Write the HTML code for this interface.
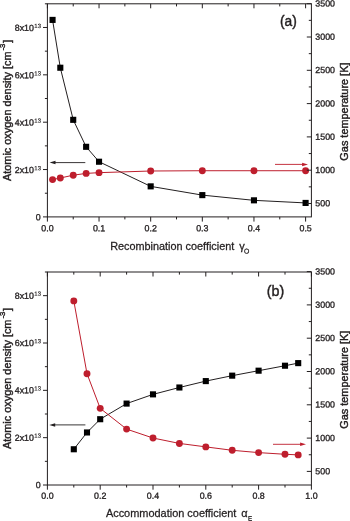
<!DOCTYPE html>
<html lang="en">
<head>
<meta charset="utf-8">
<title>Atomic oxygen density and gas temperature</title>
<style>
html,body{margin:0;padding:0;background:#fff;}
body{width:350px;height:521px;overflow:hidden;}
svg{display:block;filter:blur(0.35px);}
text{font-family:"Liberation Sans", sans-serif;fill:#231f20;stroke:#231f20;stroke-width:0.4px;}
.tk{font-size:8.85px;stroke-width:0.32px;}
.sup{font-size:6px;stroke-width:0.15px;}
.sup2{font-size:7.8px;}
.sub{font-size:6.5px;}
.lab{font-size:11px;stroke-width:0.26px;}
.rot{stroke-width:0.42px;}
.tag{font-size:13.7px;}
</style>
</head>
<body>
<svg width="350" height="521" viewBox="0 0 350 521">
<rect x="0" y="0" width="350" height="521" fill="#ffffff"/>
<g>
<text transform="translate(40.7 220.30) rotate(0.03)" text-anchor="end" class="tk">0</text>
<text transform="translate(33.9 172.94) rotate(0.03)" text-anchor="end" class="tk">2x10</text>
<text transform="translate(34.3 170.14) rotate(0.03)" class="tk sup">13</text>
<text transform="translate(33.9 125.59) rotate(0.03)" text-anchor="end" class="tk">4x10</text>
<text transform="translate(34.3 122.79) rotate(0.03)" class="tk sup">13</text>
<text transform="translate(33.9 78.23) rotate(0.03)" text-anchor="end" class="tk">6x10</text>
<text transform="translate(34.3 75.43) rotate(0.03)" class="tk sup">13</text>
<text transform="translate(33.9 30.88) rotate(0.03)" text-anchor="end" class="tk">8x10</text>
<text transform="translate(34.3 28.08) rotate(0.03)" class="tk sup">13</text>
<text transform="translate(315.3 206.30) rotate(0.03)" class="tk">500</text>
<text transform="translate(315.3 173.00) rotate(0.03)" class="tk">1000</text>
<text transform="translate(315.3 139.70) rotate(0.03)" class="tk">1500</text>
<text transform="translate(315.3 106.40) rotate(0.03)" class="tk">2000</text>
<text transform="translate(315.3 73.10) rotate(0.03)" class="tk">2500</text>
<text transform="translate(315.3 39.80) rotate(0.03)" class="tk">3000</text>
<text transform="translate(315.3 6.50) rotate(0.03)" class="tk">3500</text>
<text transform="translate(47.40 231.30) rotate(0.03)" text-anchor="middle" class="tk">0.0</text>
<text transform="translate(99.04 231.30) rotate(0.03)" text-anchor="middle" class="tk">0.1</text>
<text transform="translate(150.68 231.30) rotate(0.03)" text-anchor="middle" class="tk">0.2</text>
<text transform="translate(202.32 231.30) rotate(0.03)" text-anchor="middle" class="tk">0.3</text>
<text transform="translate(253.96 231.30) rotate(0.03)" text-anchor="middle" class="tk">0.4</text>
<text transform="translate(305.60 231.30) rotate(0.03)" text-anchor="middle" class="tk">0.5</text>
<polyline points="52.56,19.90 60.31,67.73 73.22,119.82 86.13,146.81 99.04,161.73 150.68,186.36 202.32,195.12 253.96,200.33 305.60,202.93" fill="none" stroke="#231f20" stroke-width="1"/>
<rect x="49.51" y="16.85" width="6.1" height="6.1" fill="#000"/>
<rect x="57.26" y="64.68" width="6.1" height="6.1" fill="#000"/>
<rect x="70.17" y="116.77" width="6.1" height="6.1" fill="#000"/>
<rect x="83.08" y="143.76" width="6.1" height="6.1" fill="#000"/>
<rect x="95.99" y="158.68" width="6.1" height="6.1" fill="#000"/>
<rect x="147.63" y="183.31" width="6.1" height="6.1" fill="#000"/>
<rect x="199.27" y="192.07" width="6.1" height="6.1" fill="#000"/>
<rect x="250.91" y="197.28" width="6.1" height="6.1" fill="#000"/>
<rect x="302.55" y="199.88" width="6.1" height="6.1" fill="#000"/>
<polyline points="52.56,179.59 60.31,177.99 73.22,175.19 86.13,173.40 99.04,172.66 150.68,171.00 202.32,170.73 253.96,170.73 305.60,170.73" fill="none" stroke="#be1e2d" stroke-width="1"/>
<circle cx="52.56" cy="179.59" r="3.45" fill="#be1e2d"/>
<circle cx="60.31" cy="177.99" r="3.45" fill="#be1e2d"/>
<circle cx="73.22" cy="175.19" r="3.45" fill="#be1e2d"/>
<circle cx="86.13" cy="173.40" r="3.45" fill="#be1e2d"/>
<circle cx="99.04" cy="172.66" r="3.45" fill="#be1e2d"/>
<circle cx="150.68" cy="171.00" r="3.45" fill="#be1e2d"/>
<circle cx="202.32" cy="170.73" r="3.45" fill="#be1e2d"/>
<circle cx="253.96" cy="170.73" r="3.45" fill="#be1e2d"/>
<circle cx="305.60" cy="170.73" r="3.45" fill="#be1e2d"/>
<rect x="47.4" y="3.8" width="264.0" height="213.1" fill="none" stroke="#231f20" stroke-width="1"/>
<path d="M47.4 216.90h-4.4 M47.4 193.22h-2.5 M47.4 169.54h-4.4 M47.4 145.87h-2.5 M47.4 122.19h-4.4 M47.4 98.51h-2.5 M47.4 74.83h-4.4 M47.4 51.16h-2.5 M47.4 27.48h-4.4 M47.4 3.80h-2.5 M311.4 203.50h-4.6 M311.4 186.85h-2.6 M311.4 170.20h-4.6 M311.4 153.55h-2.6 M311.4 136.90h-4.6 M311.4 120.25h-2.6 M311.4 103.60h-4.6 M311.4 86.95h-2.6 M311.4 70.30h-4.6 M311.4 53.65h-2.6 M311.4 37.00h-4.6 M311.4 20.35h-2.6 M311.4 3.70h-4.6 M47.40 216.9v4.7 M47.40 3.8v4.5 M99.04 216.9v4.7 M99.04 3.8v4.5 M150.68 216.9v4.7 M150.68 3.8v4.5 M202.32 216.9v4.7 M202.32 3.8v4.5 M253.96 216.9v4.7 M253.96 3.8v4.5 M305.60 216.9v4.7 M305.60 3.8v4.5 M73.22 216.9v2.5 M73.22 3.8v2.6 M124.86 216.9v2.5 M124.86 3.8v2.6 M176.50 216.9v2.5 M176.50 3.8v2.6 M228.14 216.9v2.5 M228.14 3.8v2.6 M279.78 216.9v2.5 M279.78 3.8v2.6" stroke="#231f20" stroke-width="1" fill="none"/>
<path d="M53.6 162.6H85.3" stroke="#231f20" stroke-width="0.9" fill="none"/>
<path d="M49.6 162.6l5.9 -1.75v3.5z" fill="#231f20"/>
<path d="M275.0 164.4H304.0" stroke="#be1e2d" stroke-width="0.9" fill="none"/>
<path d="M308.0 164.4l-5.9 -1.75v3.5z" fill="#be1e2d"/>
<text x="280.0" y="25.9" class="tag" style="font-size:13.8px">(a)</text>
<text x="110.15" y="249.5" class="lab" style="font-size:10.87px">Recombination coefficient</text>
<text x="239.3" y="249.7" class="lab">γ</text>
<text transform="translate(244.0 253.4) rotate(0.03)" class="lab" style="font-size:6.8px">O</text>
<text transform="translate(11.0 110.4) rotate(-90)" class="lab rot" style="font-size:10.9px" text-anchor="middle">Atomic oxygen density [cm<tspan class="sup2" dy="-5.8" dx="1.0">-3</tspan><tspan dy="5.8" dx="0.7">]</tspan></text>
<text transform="translate(347.8 111.6) rotate(-90)" class="lab rot" style="font-size:10.9px" text-anchor="middle">Gas temperature [K]</text>
</g>
<g>
<text transform="translate(40.7 488.00) rotate(0.03)" text-anchor="end" class="tk">0</text>
<text transform="translate(33.9 440.67) rotate(0.03)" text-anchor="end" class="tk">2x10</text>
<text transform="translate(34.3 437.87) rotate(0.03)" class="tk sup">13</text>
<text transform="translate(33.9 393.33) rotate(0.03)" text-anchor="end" class="tk">4x10</text>
<text transform="translate(34.3 390.53) rotate(0.03)" class="tk sup">13</text>
<text transform="translate(33.9 346.00) rotate(0.03)" text-anchor="end" class="tk">6x10</text>
<text transform="translate(34.3 343.20) rotate(0.03)" class="tk sup">13</text>
<text transform="translate(33.9 298.67) rotate(0.03)" text-anchor="end" class="tk">8x10</text>
<text transform="translate(34.3 295.87) rotate(0.03)" class="tk sup">13</text>
<text transform="translate(315.3 474.20) rotate(0.03)" class="tk">500</text>
<text transform="translate(315.3 440.90) rotate(0.03)" class="tk">1000</text>
<text transform="translate(315.3 407.60) rotate(0.03)" class="tk">1500</text>
<text transform="translate(315.3 374.30) rotate(0.03)" class="tk">2000</text>
<text transform="translate(315.3 341.00) rotate(0.03)" class="tk">2500</text>
<text transform="translate(315.3 307.70) rotate(0.03)" class="tk">3000</text>
<text transform="translate(315.3 274.40) rotate(0.03)" class="tk">3500</text>
<text transform="translate(47.40 498.80) rotate(0.03)" text-anchor="middle" class="tk">0.0</text>
<text transform="translate(100.20 498.80) rotate(0.03)" text-anchor="middle" class="tk">0.2</text>
<text transform="translate(153.00 498.80) rotate(0.03)" text-anchor="middle" class="tk">0.4</text>
<text transform="translate(205.80 498.80) rotate(0.03)" text-anchor="middle" class="tk">0.6</text>
<text transform="translate(258.60 498.80) rotate(0.03)" text-anchor="middle" class="tk">0.8</text>
<text transform="translate(311.40 498.80) rotate(0.03)" text-anchor="middle" class="tk">1.0</text>
<polyline points="73.80,449.26 87.00,432.46 100.20,419.21 126.60,403.59 153.00,394.36 179.40,387.49 205.80,381.10 232.20,375.66 258.60,370.69 285.00,365.72 298.20,363.12" fill="none" stroke="#231f20" stroke-width="1"/>
<rect x="70.75" y="446.21" width="6.1" height="6.1" fill="#000"/>
<rect x="83.95" y="429.41" width="6.1" height="6.1" fill="#000"/>
<rect x="97.15" y="416.16" width="6.1" height="6.1" fill="#000"/>
<rect x="123.55" y="400.54" width="6.1" height="6.1" fill="#000"/>
<rect x="149.95" y="391.31" width="6.1" height="6.1" fill="#000"/>
<rect x="176.35" y="384.44" width="6.1" height="6.1" fill="#000"/>
<rect x="202.75" y="378.05" width="6.1" height="6.1" fill="#000"/>
<rect x="229.15" y="372.61" width="6.1" height="6.1" fill="#000"/>
<rect x="255.55" y="367.64" width="6.1" height="6.1" fill="#000"/>
<rect x="281.95" y="362.67" width="6.1" height="6.1" fill="#000"/>
<rect x="295.15" y="360.07" width="6.1" height="6.1" fill="#000"/>
<polyline points="73.80,300.90 87.00,373.70 100.20,408.33 126.60,429.11 153.00,438.03 179.40,443.43 205.80,446.89 232.20,450.29 258.60,452.62 285.00,454.28 298.20,454.88" fill="none" stroke="#be1e2d" stroke-width="1"/>
<circle cx="73.80" cy="300.90" r="3.45" fill="#be1e2d"/>
<circle cx="87.00" cy="373.70" r="3.45" fill="#be1e2d"/>
<circle cx="100.20" cy="408.33" r="3.45" fill="#be1e2d"/>
<circle cx="126.60" cy="429.11" r="3.45" fill="#be1e2d"/>
<circle cx="153.00" cy="438.03" r="3.45" fill="#be1e2d"/>
<circle cx="179.40" cy="443.43" r="3.45" fill="#be1e2d"/>
<circle cx="205.80" cy="446.89" r="3.45" fill="#be1e2d"/>
<circle cx="232.20" cy="450.29" r="3.45" fill="#be1e2d"/>
<circle cx="258.60" cy="452.62" r="3.45" fill="#be1e2d"/>
<circle cx="285.00" cy="454.28" r="3.45" fill="#be1e2d"/>
<circle cx="298.20" cy="454.88" r="3.45" fill="#be1e2d"/>
<rect x="47.4" y="272.0" width="264.0" height="213.0" fill="none" stroke="#231f20" stroke-width="1"/>
<path d="M47.4 485.00h-4.4 M47.4 461.33h-2.5 M47.4 437.67h-4.4 M47.4 414.00h-2.5 M47.4 390.33h-4.4 M47.4 366.67h-2.5 M47.4 343.00h-4.4 M47.4 319.33h-2.5 M47.4 295.67h-4.4 M47.4 272.00h-2.5 M311.4 471.40h-4.6 M311.4 454.75h-2.6 M311.4 438.10h-4.6 M311.4 421.45h-2.6 M311.4 404.80h-4.6 M311.4 388.15h-2.6 M311.4 371.50h-4.6 M311.4 354.85h-2.6 M311.4 338.20h-4.6 M311.4 321.55h-2.6 M311.4 304.90h-4.6 M311.4 288.25h-2.6 M311.4 271.60h-4.6 M47.40 485.0v4.7 M47.40 272.0v4.5 M100.20 485.0v4.7 M100.20 272.0v4.5 M153.00 485.0v4.7 M153.00 272.0v4.5 M205.80 485.0v4.7 M205.80 272.0v4.5 M258.60 485.0v4.7 M258.60 272.0v4.5 M311.40 485.0v4.7 M311.40 272.0v4.5 M73.80 485.0v2.5 M73.80 272.0v2.6 M126.60 485.0v2.5 M126.60 272.0v2.6 M179.40 485.0v2.5 M179.40 272.0v2.6 M232.20 485.0v2.5 M232.20 272.0v2.6 M285.00 485.0v2.5 M285.00 272.0v2.6" stroke="#231f20" stroke-width="1" fill="none"/>
<path d="M53.3 424.9H85.4" stroke="#231f20" stroke-width="0.9" fill="none"/>
<path d="M49.3 424.9l5.9 -1.75v3.5z" fill="#231f20"/>
<path d="M273.0 444.3H302.0" stroke="#be1e2d" stroke-width="0.9" fill="none"/>
<path d="M306.0 444.3l-5.9 -1.75v3.5z" fill="#be1e2d"/>
<text x="266.7" y="296.1" class="tag" style="font-size:14.3px">(b)</text>
<text x="105.9" y="516.6" class="lab" style="font-size:10.95px">Accommodation coefficient</text>
<text x="241.2" y="516.6" class="lab">α</text>
<text transform="translate(247.9 520.6) rotate(0.03)" class="lab" style="font-size:6.2px">E</text>
<text transform="translate(11.0 378.5) rotate(-90)" class="lab rot" style="font-size:10.9px" text-anchor="middle">Atomic oxygen density [cm<tspan class="sup2" dy="-5.8" dx="1.0">-3</tspan><tspan dy="5.8" dx="0.7">]</tspan></text>
<text transform="translate(347.8 379.7) rotate(-90)" class="lab rot" style="font-size:10.9px" text-anchor="middle">Gas temperature [K]</text>
</g>
</svg>
</body>
</html>
